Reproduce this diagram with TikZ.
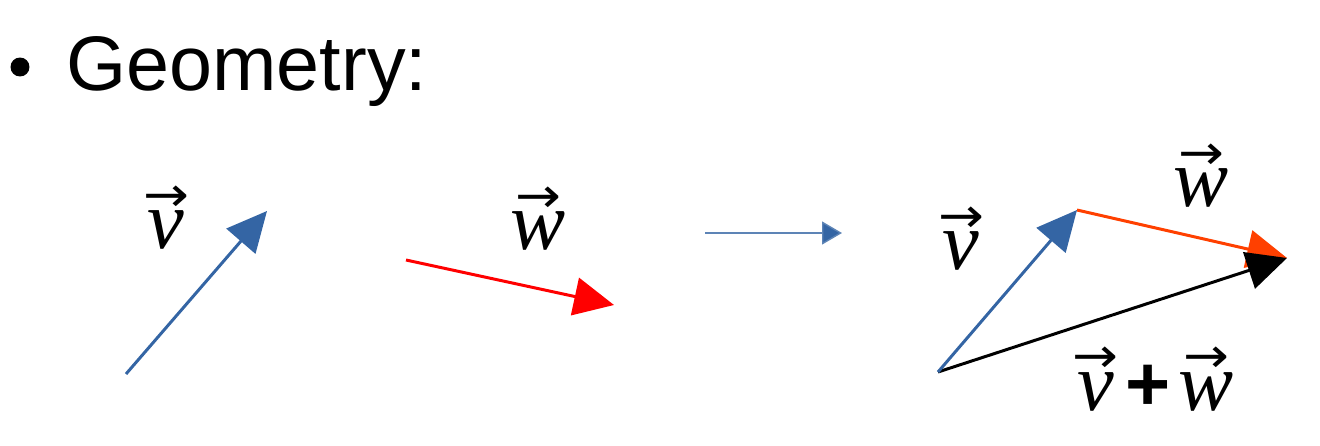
\documentclass[tikz,border=0pt]{standalone}
\usepackage{fontspec}
\setmainfont{Liberation Sans}
\newfontfamily\lblfont{Liberation Serif}
\newfontfamily\arrfont{DejaVu Sans}
\usetikzlibrary{arrows.meta}

\definecolor{vblue}{RGB}{52,101,164}
\definecolor{wred}{RGB}{255,0,0}
\definecolor{worange}{RGB}{255,64,0}

% vector label: arrow over an italic letter
\newcommand{\veclbl}[1]{\shortstack{{\arrfont\fontsize{24}{24}\selectfont\scalebox{1.3}[1.15]{→}}\\[-3pt]{\lblfont\itshape\fontsize{47}{47}\selectfont #1}}}

\tikzset{
    vec/.style={line width=1.7pt, -{Triangle[length=0.8cm, width=0.76cm]}},
    lbl/.style={anchor=base, inner sep=0pt}
}

\begin{document}
\begin{tikzpicture}[x=0.02cm, y=-0.02cm]

    % Fix the frame
    \useasboundingbox (0,0) rectangle (1320,446);

    % Heading
    \node (dot) at (20,67) [circle, fill=black, inner sep=0pt, minimum size=0.38cm] {};
    \node (title) at (66,91) [anchor=base west, inner sep=0pt, font=\fontsize{44}{50}\selectfont] {Geometry:};

    % Define the points of the vectors
    \coordinate (V0) at (126,374);
    \coordinate (V1) at (267,211);
    \coordinate (W0) at (406,260);
    \coordinate (W1) at (614,305);
    \coordinate (S0) at (705,233);
    \coordinate (S1) at (842,233);
    \coordinate (A) at (938,372);
    \coordinate (B) at (1077,210);
    \coordinate (C) at (1287,258);

    % Draw the single vectors
    \draw [vec, vblue] (V0) -- (V1);
    \draw [vec, wred] (W0) -- (W1);

    % Draw the small arrow in between
    \draw [vblue!80, line width=0.8pt, -{Triangle[length=0.4cm, width=0.46cm, fill=vblue]}] (S0) -- (S1);

    % Draw the sum of the vectors
    \draw [vec, worange] (B) -- (C);
    \draw [vec, black] (A) -- (C);
    \draw [vec, vblue] (A) -- (B);

    % Place the labels
    \node (lv) at (166,249) [lbl] {\veclbl{v}};
    \node (lw) at (538,250) [lbl] {\veclbl{w}};
    \node (rv) at (961,270) [lbl] {\veclbl{v}};
    \node (rw) at (1201,207) [lbl] {\veclbl{w}};
    \node (rs) at (1153,410) [lbl] {\veclbl{v}\hspace{0.15cm}{\fontsize{44}{44}\selectfont\bfseries +}\hspace{0.15cm}\veclbl{w}};

\end{tikzpicture}
\end{document}
